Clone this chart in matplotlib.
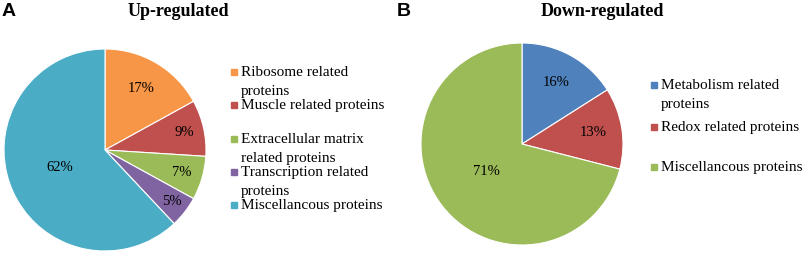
import matplotlib
matplotlib.use("Agg")
import numpy as np
import matplotlib.pyplot as plt
from matplotlib.lines import Line2D

# data
up_labels = ["Ribosome related\nproteins", "Muscle related proteins",
             "Extracellular matrix\nrelated proteins", "Transcription related\nproteins",
             "Miscellancous proteins"]
up_values = [17, 9, 7, 5, 62]
up_colors = ["#F79646", "#C0504D", "#9BBB59", "#8064A2", "#4BACC6"]

down_labels = ["Metabolism related\nproteins", "Redox related proteins", "Miscellancous proteins"]
down_values = [16, 13, 71]
down_colors = ["#4F81BD", "#C0504D", "#9BBB59"]

W, H = 809, 254
serif = "Liberation Serif"

fig = plt.figure(figsize=(W / 100, H / 100), dpi=100)


def px_axes(cx, cy, r):
    return fig.add_axes([(cx - r) / W, (H - cy - r) / H, 2 * r / W, 2 * r / H])


def draw_pie(ax, values, colors, dists):
    wedges, _ = ax.pie(values, colors=colors, startangle=90, counterclock=False,
                       wedgeprops=dict(linewidth=0.8, edgecolor="white"))
    # percentage labels, placed like Excel's best-fit
    for w, v, d in zip(wedges, values, dists):
        ang = np.deg2rad((w.theta1 + w.theta2) / 2)
        ax.text(d * np.cos(ang), d * np.sin(ang), f"{v}%", family=serif,
                fontsize=10.5, ha="center", va="center")
    ax.set_xlim(-1, 1)
    ax.set_ylim(-1, 1)


def draw_legend(labels, colors, x_key, x_text, ys):
    for lab, col, y in zip(labels, colors, ys):
        fig.add_artist(Line2D([x_key / W], [1 - y / H], marker="s", markersize=4.4,
                              color=col, linestyle="none", transform=fig.transFigure))
        fig.text(x_text / W, 1 - (y - 6) / H, lab, family=serif, fontsize=11,
                 va="top", ha="left", linespacing=1.6)


ax1 = px_axes(105, 150, 101)
draw_pie(ax1, up_values, up_colors, [0.71, 0.80, 0.79, 0.84, 0.48])
draw_legend(up_labels, up_colors, 234, 241, [72, 105, 139, 172, 205])

ax2 = px_axes(522, 144, 101)
draw_pie(ax2, down_values, down_colors, [0.70, 0.71, 0.44])
draw_legend(down_labels, down_colors, 654, 661, [85, 127, 167])

fig.text(178 / W, 1 - 12 / H, "Up-regulated", family=serif, fontsize=13,
         fontweight="bold", ha="center", va="center")
fig.text(602 / W, 1 - 12 / H, "Down-regulated", family=serif, fontsize=13,
         fontweight="bold", ha="center", va="center")
fig.text(2 / W, 1 - 12 / H, "A", family="Liberation Sans", fontsize=14,
         fontweight="bold", ha="left", va="center")
fig.text(397 / W, 1 - 12 / H, "B", family="Liberation Sans", fontsize=14,
         fontweight="bold", ha="left", va="center")

fig.savefig("out.png", dpi=100)
